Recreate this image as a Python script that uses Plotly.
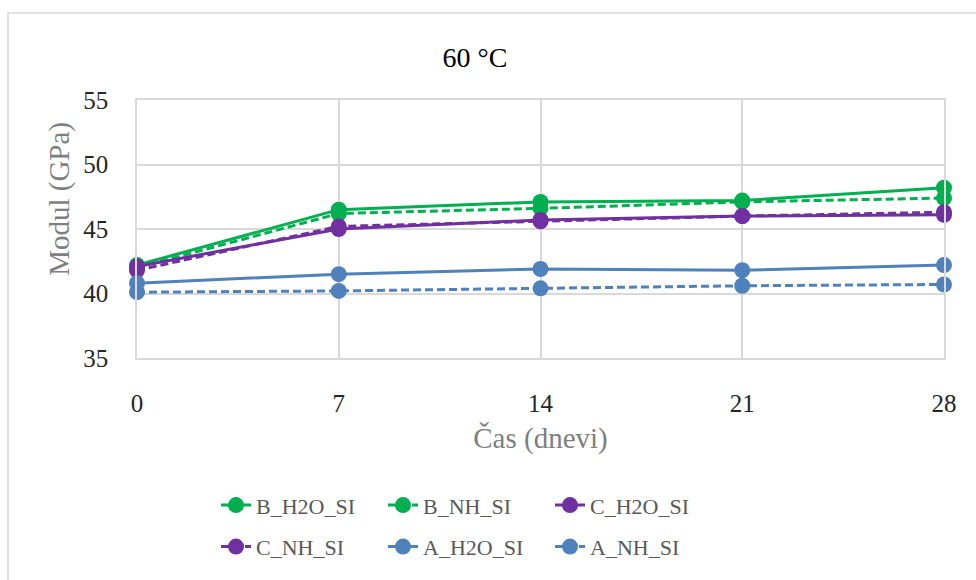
import plotly.graph_objects as go

# Time points (days)
days = [0, 7, 14, 21, 28]
tick_labels = ["0", "7", "14", "21", "28"]

# Modulus (GPa) per series
b_h2o_si = [42.2, 46.5, 47.1, 47.2, 48.2]
b_nh_si = [42.0, 46.2, 46.6, 47.1, 47.4]
c_h2o_si = [42.1, 45.0, 45.7, 46.0, 46.1]
c_nh_si = [41.8, 45.2, 45.6, 46.0, 46.3]
a_h2o_si = [40.8, 41.5, 41.9, 41.8, 42.2]
a_nh_si = [40.1, 40.2, 40.4, 40.6, 40.7]

GREEN = "#00B050"
PURPLE = "#7030A0"
BLUE = "#4F81BD"
DASH = "8px,4px"
FONT = "Liberation Serif"

series = [
    ("B_H2O_SI", b_h2o_si, GREEN, "solid", "legend"),
    ("B_NH_SI", b_nh_si, GREEN, DASH, "legend"),
    ("C_H2O_SI", c_h2o_si, PURPLE, "solid", "legend"),
    ("C_NH_SI", c_nh_si, PURPLE, DASH, "legend2"),
    ("A_H2O_SI", a_h2o_si, BLUE, "solid", "legend2"),
    ("A_NH_SI", a_nh_si, BLUE, DASH, "legend2"),
]

fig = go.Figure()
for name, vals, color, dash, leg in series:
    fig.add_trace(go.Scatter(
        x=days, y=vals, name=name, mode="lines+markers",
        line=dict(color=color, width=3, dash=dash),
        marker=dict(color=color, size=16, symbol="circle"),
        cliponaxis=False, legend=leg,
    ))

W, H = 976, 580
L, R, T, B = 137, 32, 100, 219
pw, ph = W - L - R, H - T - B

def px_x(p):
    return (p - L) / pw

def px_y(p):
    return (H - B - p) / ph

legend_common = dict(
    orientation="h", xanchor="left", yanchor="middle",
    font=dict(family=FONT, size=22, color="#595959"),
    entrywidth=122, entrywidthmode="pixels",
    bgcolor="rgba(0,0,0,0)", itemwidth=30, traceorder="normal",
)

fig.update_layout(
    width=W, height=H,
    margin=dict(l=L, r=R, t=T, b=B),
    paper_bgcolor="white", plot_bgcolor="white",
    font=dict(family=FONT),
    title=dict(text="60 °C", x=475 / W, xanchor="center",
               y=1 - 57 / H, yanchor="middle",
               font=dict(family=FONT, size=28, color="#000000")),
    legend=dict(x=px_x(216), y=px_y(510), **legend_common),
    legend2=dict(x=px_x(216), y=px_y(552), **legend_common),
    xaxis=dict(
        range=[0, 28], tickvals=days, ticktext=tick_labels,
        showgrid=True, gridcolor="#D9D9D9", gridwidth=1.5,
        showline=True, linecolor="#D9D9D9", linewidth=1.5, mirror=True,
        zeroline=False, ticks="", ticklabelstandoff=22,
        tickfont=dict(family=FONT, size=25, color="#262626"),
        title=dict(text="Čas (dnevi)", standoff=12,
                   font=dict(family=FONT, size=29, color="#7F7F7F")),
    ),
    yaxis=dict(
        range=[35, 55], dtick=5, tick0=35,
        showgrid=True, gridcolor="#D9D9D9", gridwidth=1.5,
        showline=True, linecolor="#D9D9D9", linewidth=1.5, mirror=True,
        zeroline=False, ticks="", ticklabelstandoff=22,
        tickfont=dict(family=FONT, size=25, color="#262626"),
    ),
)

# Vertical axis title, set a little above the plot's middle
fig.add_annotation(text="Modul (GPa)", xref="paper", yref="paper",
                   x=px_x(60), y=px_y(200), xanchor="center", yanchor="middle",
                   textangle=-90, showarrow=False,
                   font=dict(family=FONT, size=29, color="#7F7F7F"))

# Outer chart frame
fig.add_shape(type="rect", xref="paper", yref="paper",
              x0=px_x(8), x1=px_x(990), y0=px_y(600), y1=px_y(12),
              line=dict(color="#D9D9D9", width=1.5), layer="below")

fig.write_html("out.html")
